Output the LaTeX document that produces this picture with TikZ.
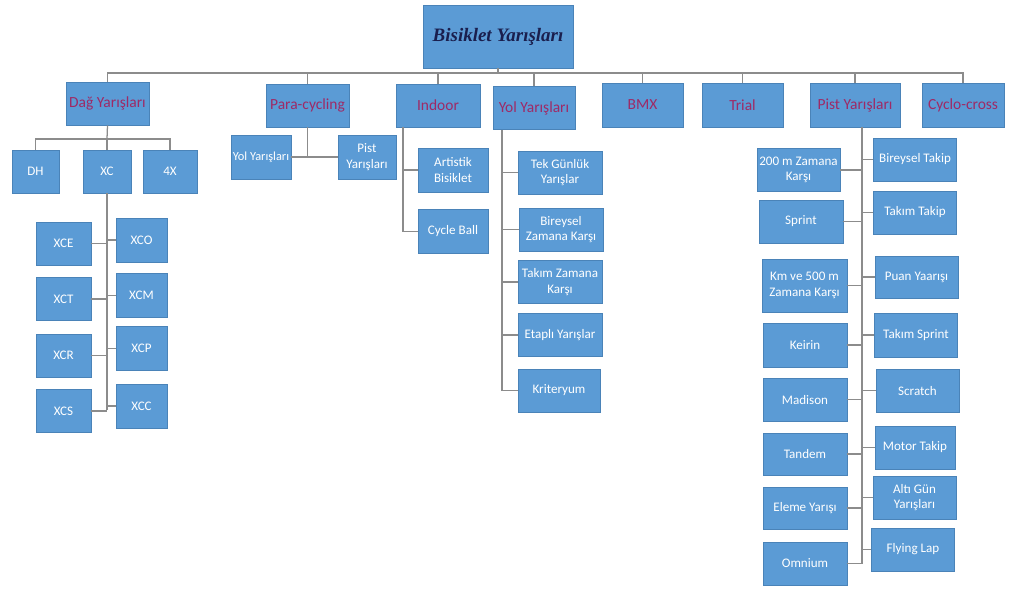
\documentclass[tikz,border=0pt]{standalone}
\usepackage{fontspec}
\setmainfont{Carlito}
\newfontfamily\titlefont{Liberation Serif}
\definecolor{boxblue}{HTML}{5B9BD5}
\definecolor{boxedge}{HTML}{4A83B8}
\definecolor{linkgray}{HTML}{8C8C8C}
\definecolor{toptext}{HTML}{9E2A66}
\definecolor{titletext}{HTML}{1A1F4E}
\tikzset{
  box/.style={fill=boxblue, draw=boxedge, line width=0.4pt, text=white, align=center,
    inner sep=1pt, minimum width=2.08cm, minimum height=1.08cm, font=\fontsize{9.3}{11}\selectfont},
  topbox/.style={box, text=toptext, font=\fontsize{11}{13}\selectfont},
  titlebox/.style={box, text=titletext, minimum width=3.75cm, minimum height=1.58cm,
    font=\titlefont\bfseries\itshape\fontsize{13.5}{16}\selectfont},
  link/.style={draw=linkgray, line width=0.9pt}
}
\begin{document}
\begin{tikzpicture}[x=0.025cm, y=-0.025cm]
\useasboundingbox (0,0) rectangle (1013,588);
\node[titlebox] (root) at (498,36.5) {Bisiklet Yarışları};
% ana dallar
\node[topbox] (dag) at (107.5,103.5) {Dağ Yarışları};
\node[topbox] (para) at (307.5,105.5) {Para-cycling};
\node[topbox, minimum width=2.1cm] (indoor) at (438,105.5) {Indoor};
\node[topbox, minimum width=2.05cm] (yol) at (534,108) {Yol Yarışları};
\node[topbox, minimum width=2.03cm, minimum height=1.1cm] (bmx) at (642.5,105) {BMX};
\node[topbox, minimum width=2.03cm, minimum height=1.1cm] (trial) at (742.5,105) {Trial};
\node[topbox, minimum width=2.25cm, minimum height=1.1cm] (pist) at (855,105) {Pist Yarışları};
\node[topbox, minimum width=2.05cm, minimum height=1.1cm] (cyclo) at (963,105) {Cyclo-cross};
\coordinate (bus) at (498,73);
\draw[link] (root.south) -- (bus);
\draw[link] (dag.north) |- (bus) -| (cyclo.north);
\foreach \n in {para,indoor,yol,bmx,trial,pist}
  \draw[link] (\n.north) -- (\n.north |- bus);
% Dağ Yarışları
\node[box, minimum width=1.18cm] (dh) at (35.5,171.5) {DH};
\node[box, minimum width=1.2cm] (xc) at (107,171.5) {XC};
\node[box, minimum width=1.35cm] (fourx) at (170,171.5) {4X};
\coordinate (daghub) at (107,139);
\draw[link] (dag.south) -- (daghub);
\draw[link] (dh.north) |- (daghub) -| (fourx.north);
\draw[link] (xc.north) -- (xc.north |- daghub);
\node[box, minimum width=1.38cm] (xce) at (63.5,243.5) {XCE};
\node[box, minimum width=1.38cm] (xct) at (63.5,299) {XCT};
\node[box, minimum width=1.38cm] (xcr) at (63.5,355.5) {XCR};
\node[box, minimum width=1.38cm] (xcs) at (63.5,411) {XCS};
\node[box, minimum width=1.28cm, minimum height=1.1cm] (xco) at (141.5,240) {XCO};
\node[box, minimum width=1.28cm, minimum height=1.1cm] (xcm) at (141.5,295.5) {XCM};
\node[box, minimum width=1.28cm, minimum height=1.1cm] (xcp) at (141.5,348.5) {XCP};
\node[box, minimum width=1.28cm, minimum height=1.1cm] (xcc) at (141.5,406) {XCC};
\coordinate (xcend) at (107,410);
\draw[link] (xc.south) -- (xcend);
\foreach \n in {xce,xct,xcr,xcs}
  \draw[link] (\n.east) -- (\n.east -| xcend);
\foreach \n in {xco,xcm,xcp,xcc}
  \draw[link] (\n.west) -- (\n.west -| xcend);
% Para-cycling
\node[box, minimum width=1.5cm, minimum height=1.1cm, inner sep=0pt, font=\fontsize{8.8}{10}\selectfont] (payol) at (261,157) {Yol Yarışları};
\node[box, minimum width=1.45cm, minimum height=1.1cm] (papist) at (367,157) {Pist\\Yarışları};
\draw[link] (payol.east) -- (papist.west);
\draw[link] (para.south) -- (para.south |- payol.east);
% Indoor
\node[box, minimum width=1.75cm, minimum height=1.1cm] (artis) at (453,170) {Artistik\\Bisiklet};
\node[box, minimum width=1.75cm, minimum height=1.1cm] (cball) at (453,231.5) {Cycle Ball};
\coordinate (indspine) at (403,0);
\draw[link] (indspine |- indoor.south) -- (indspine |- cball.west);
\foreach \n in {artis,cball}
  \draw[link] (\n.west) -- (\n.west -| indspine);
% Yol Yarışları
\node[box, minimum width=2.1cm] (tek) at (560,172.5) {Tek Günlük\\Yarışlar};
\node[box, minimum width=2.1cm] (bzk) at (561,229.5) {Bireysel\\Zamana Karşı};
\node[box, minimum width=2.1cm] (tzk) at (560,282) {Takım Zamana\\Karşı};
\node[box, minimum width=2.1cm] (etap) at (560,335) {Etaplı Yarışlar};
\node[box, minimum width=2.05cm] (krit) at (559,390.5) {Kriteryum};
\coordinate (yolspine) at (502,0);
\draw[link] (yolspine |- yol.south) -- (yolspine |- krit.west);
\foreach \n in {tek,bzk,tzk,etap,krit}
  \draw[link] (\n.west) -- (\n.west -| yolspine);
% Pist Yarışları
\node[box] (z200) at (798.5,170) {200 m Zamana\\Karşı};
\node[box, minimum width=2.1cm] (sprint) at (801,221.5) {Sprint};
\node[box, minimum width=2.12cm, minimum height=1.33cm] (km500) at (804.5,285.5) {Km ve 500 m\\Zamana Karşı};
\node[box, minimum width=2.1cm, minimum height=1.1cm] (keirin) at (805,345) {Keirin};
\node[box, minimum width=2.1cm] (madison) at (805,399.5) {Madison};
\node[box, minimum width=2.1cm, minimum height=1.05cm] (tandem) at (805,454) {Tandem};
\node[box, minimum width=2.1cm, minimum height=1.05cm] (eleme) at (805,508) {Eleme Yarışı};
\node[box, minimum width=2.1cm] (omnium) at (805,563.5) {Omnium};
\node[box] (btakip) at (915,159.5) {Bireysel Takip};
\node[box] (ttakip) at (915,212.5) {Takım Takip};
\node[box, minimum height=1.05cm] (puan) at (916.5,277) {Puan Yaarışı};
\node[box, minimum height=1.1cm] (tsprint) at (916,335) {Takım Sprint};
\node[box] (scratch) at (917.5,390.5) {Scratch};
\node[box, minimum width=2.0cm] (motor) at (915,447.5) {Motor Takip};
\node[box] (altigun) at (914.5,497.5) {Altı Gün\\Yarışları};
\node[box] (flying) at (913,549.5) {Flying Lap};
\coordinate (pistspine) at (862,0);
\draw[link] (pistspine |- pist.south) -- (pistspine |- omnium.east);
\foreach \n in {z200,sprint,km500,keirin,madison,tandem,eleme,omnium}
  \draw[link] (\n.east) -- (\n.east -| pistspine);
\foreach \n in {btakip,ttakip,puan,tsprint,scratch,motor,altigun,flying}
  \draw[link] (\n.west) -- (\n.west -| pistspine);
\end{tikzpicture}
\end{document}
